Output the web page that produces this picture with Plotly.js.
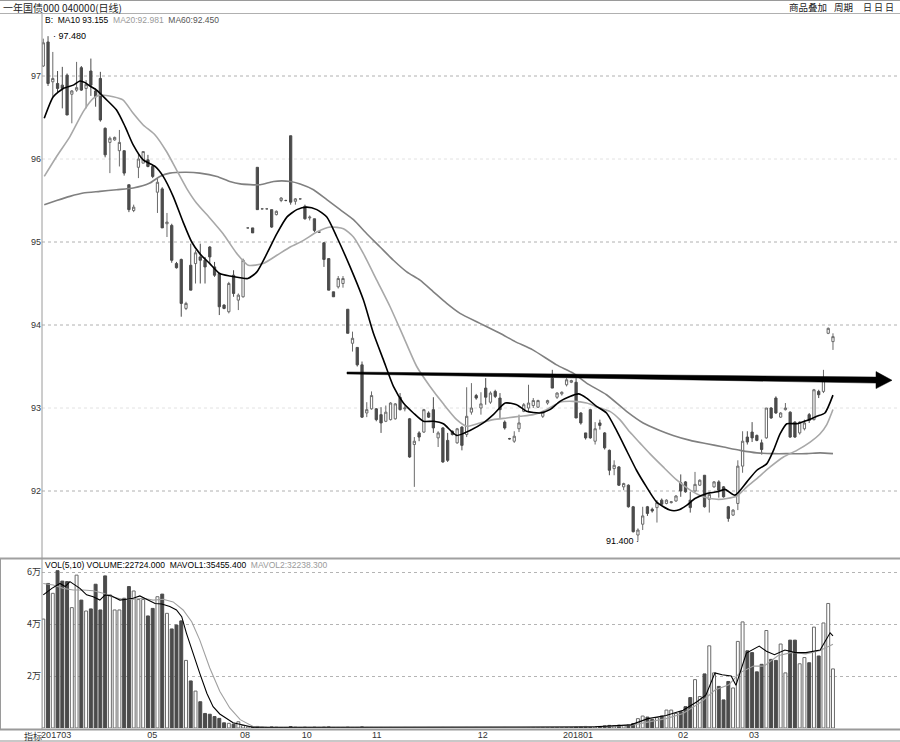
<!DOCTYPE html>
<html><head><meta charset="utf-8">
<script src="https://cdn.plot.ly/plotly-3.0.1.min.js"></script>
<style>html,body{margin:0;padding:0;background:#fff}#c{width:900px;height:742px}</style>
</head><body><div id="c"></div>
<script>
// ---------- data ----------
const open = [97.12,97.41,96.93,96.91,96.89,97.01,96.78,96.83,97.10,96.85,
97.06,96.82,96.97,96.37,96.20,96.23,96.10,96.10,95.69,95.38,
95.90,95.95,95.99,95.91,95.60,95.64,95.22,95.20,94.74,94.79,
94.20,94.72,94.74,94.82,94.78,94.94,94.70,94.62,94.24,94.16,
94.60,94.30,94.34,95.17,95.17,95.90,95.40,95.40,95.39,95.33,
95.50,95.50,96.28,95.49,95.52,95.43,95.29,95.28,95.12,94.99,
94.80,94.40,94.46,94.50,94.19,93.78,93.73,93.52,92.94,92.99,
92.99,92.92,92.84,92.86,92.87,93.13,92.99,92.87,92.56,92.70,
92.71,92.94,92.98,92.64,92.76,92.61,92.72,92.58,92.77,92.68,
92.95,93.15,93.00,93.24,93.07,93.20,93.12,92.83,92.63,92.60,
92.75,92.96,93.00,93.03,93.01,92.90,93.06,93.36,93.13,93.17,
93.28,93.31,93.31,92.94,92.70,92.98,92.60,92.82,92.70,92.49,
92.27,92.29,92.05,92.07,91.81,91.47,91.60,91.81,91.78,91.80,
91.89,91.85,91.86,91.88,92.10,92.11,91.89,92.00,92.07,92.19,
91.90,92.05,92.11,92.05,91.81,91.71,91.85,92.30,92.65,92.71,
92.67,92.58,92.64,93.00,93.12,92.89,92.98,92.95,92.83,92.70,
92.75,92.92,92.86,93.20,93.20,93.90,93.80];
const high = [97.45,97.48,97.29,97.06,97.11,97.03,96.83,97.17,97.12,96.95,
97.21,96.85,97.05,96.38,96.27,96.27,96.35,96.10,95.69,95.45,
96.07,96.09,96.05,95.93,95.77,95.66,95.35,95.22,94.76,94.80,
94.28,94.98,94.90,94.98,94.82,94.95,94.76,94.63,94.25,94.52,
94.66,94.38,94.80,95.18,95.17,95.90,95.41,95.41,95.39,95.38,
95.54,95.51,96.28,95.53,95.53,95.45,95.32,95.28,95.13,95.00,
94.80,94.40,94.59,94.59,94.19,93.92,93.73,93.56,93.07,93.20,
93.00,93.01,93.03,93.07,93.06,93.18,93.03,92.88,92.65,92.72,
92.99,92.96,93.13,92.72,92.77,92.70,92.73,92.76,92.78,93.25,
93.30,93.17,93.19,93.36,93.20,93.22,93.18,92.85,92.64,92.72,
92.92,93.06,93.28,93.12,93.10,92.96,93.10,93.46,93.19,93.20,
93.36,93.34,93.36,92.95,92.70,92.99,92.83,92.86,92.71,92.50,
92.37,92.30,92.10,92.08,91.82,91.55,91.81,91.82,91.80,91.89,
91.91,91.90,91.88,91.95,92.20,92.12,91.99,92.23,92.14,92.19,
91.99,92.12,92.13,92.06,91.82,91.78,92.37,92.72,92.72,92.83,
92.68,92.62,93.00,93.01,93.14,92.95,93.06,92.96,92.84,92.84,
92.86,92.94,93.23,93.22,93.46,93.97,93.90];
const low = [97.11,96.88,96.75,96.80,96.61,96.53,96.43,96.81,96.82,96.61,
96.76,96.63,96.45,96.02,95.83,96.22,95.91,95.80,95.36,95.36,
95.77,95.95,95.90,95.77,95.35,95.17,95.06,94.75,94.68,94.10,
94.18,94.42,94.50,94.50,94.50,94.74,94.58,94.12,94.19,94.14,
94.34,94.18,94.33,95.16,95.11,95.39,95.39,95.39,95.17,95.32,
95.48,95.49,95.45,95.45,95.51,95.27,95.26,95.12,95.11,94.70,
94.42,94.34,94.44,94.45,93.90,93.68,93.50,92.88,92.89,92.98,
92.84,92.70,92.83,92.85,92.86,92.97,92.96,92.40,92.05,92.60,
92.70,92.88,92.70,92.53,92.34,92.35,92.67,92.57,92.49,92.65,
92.92,93.10,92.92,93.04,93.05,93.12,92.88,92.74,92.62,92.58,
92.71,92.95,92.95,93.00,93.00,92.88,93.04,93.24,93.11,93.15,
93.26,93.30,92.88,92.80,92.62,92.63,92.56,92.74,92.50,92.19,
92.19,92.06,92.01,91.80,91.50,91.40,91.53,91.70,91.74,91.62,
91.83,91.84,91.85,91.87,91.93,91.98,91.74,91.99,92.06,91.80,
91.74,92.04,91.92,91.92,91.63,91.70,91.77,92.22,92.56,92.59,
92.60,92.44,92.63,92.87,92.93,92.88,92.97,92.64,92.64,92.68,
92.73,92.82,92.85,93.12,93.18,93.89,93.70];
const close = [97.40,96.91,96.97,96.85,96.85,96.53,96.82,96.86,96.83,96.90,
96.89,96.75,96.47,96.05,96.25,96.26,96.20,95.83,95.39,95.42,
96.00,96.09,95.91,95.79,95.72,95.17,95.24,94.78,94.69,94.26,
94.26,94.42,94.87,94.78,94.70,94.82,94.60,94.22,94.20,94.50,
94.38,94.36,94.78,95.17,95.11,95.39,95.40,95.40,95.18,95.37,
95.53,95.50,95.48,95.52,95.52,95.28,95.30,95.14,95.12,94.79,
94.42,94.34,94.56,94.56,93.90,93.84,93.52,92.89,92.98,93.15,
92.86,92.82,92.95,93.06,93.05,92.98,93.00,92.41,92.60,92.65,
92.98,92.89,92.76,92.70,92.35,92.37,92.68,92.75,92.55,92.90,
93.00,93.12,93.05,93.13,93.18,93.14,92.98,92.76,92.63,92.66,
92.82,93.04,93.06,93.09,93.09,92.95,93.09,93.24,93.18,93.19,
93.34,93.33,92.88,92.82,92.64,92.64,92.75,92.79,92.52,92.25,
92.31,92.07,92.09,91.81,91.51,91.53,91.70,91.73,91.76,91.86,
91.84,91.89,91.87,91.94,92.00,91.99,91.80,92.08,92.13,91.81,
91.96,92.11,92.01,91.93,91.67,91.77,92.30,92.60,92.59,92.64,
92.61,92.50,93.00,92.88,92.94,92.94,93.00,92.65,92.65,92.83,
92.82,92.85,93.22,93.16,93.35,93.96,93.86];
// volume in 万 (10,000)
const volume = [4.19,5.56,5.18,6.05,5.65,5.63,4.63,5.88,4.92,4.50,
4.58,5.53,4.54,5.85,5.12,4.54,4.54,4.99,5.44,5.27,
4.94,4.94,4.31,4.60,5.05,5.15,4.41,3.81,3.96,4.12,
2.60,1.81,1.42,1.01,0.56,0.53,0.44,0.37,0.20,0.18,
0.15,0.24,0.10,0.05,0.04,0.06,0.03,0.02,0.04,0.03,
0.02,0.02,0.05,0.03,0.02,0.03,0.02,0.03,0.02,0.03,
0.04,0.02,0.02,0.02,0.03,0.02,0.02,0.04,0.02,0.02,
0.01,0.02,0.01,0.02,0.01,0.01,0.02,0.01,0.02,0.01,
0.01,0.02,0.01,0.01,0.02,0.01,0.02,0.01,0.01,0.02,
0.01,0.02,0.01,0.01,0.02,0.01,0.01,0.02,0.01,0.01,
0.02,0.01,0.01,0.02,0.01,0.02,0.01,0.01,0.02,0.01,
0.02,0.02,0.04,0.05,0.06,0.05,0.04,0.06,0.08,0.10,
0.09,0.11,0.10,0.12,0.17,0.36,0.46,0.42,0.33,0.40,
0.46,0.69,0.69,0.56,0.63,0.82,1.17,1.86,1.21,2.08,
3.16,2.12,1.60,1.08,1.79,1.54,3.33,4.08,2.97,2.90,
2.16,2.45,3.75,2.64,2.60,3.23,2.12,3.38,3.38,2.47,
2.71,2.51,3.88,2.77,4.04,4.79,2.2724];

// moving averages (candle position, value)
const ma10Pos = [0.2,2.1,4.2,6.3,7.7,8.8,9.8,11.2,13.0,15.4,17.2,18.9,21.0,23.5,25.2,27.3,29.4,31.2,32.9,35.0,37.1,39.2,41.4,43.0,44.9,47.0,49.1,51.2,53.3,55.4,57.5,59.6,61.7,64.5,67.3,69.4,71.5,73.6,75.7,77.8,79.9,82.0,84.1,86.9,89.7,92.5,94.6,97.1,99.5,101.6,104.4,106.5,108.6,110.7,112.5,114.2,116.3,118.4,120.5,122.6,124.7,126.8,128.9,131.7,133.5,135.3,137.0,139.5,141.6,143.3,145.4,147.9,150.0,152.1,153.5,154.9,156.3,158.4,160.5,162.6,164.3,166];
const ma10Val = [96.49,96.75,96.85,96.89,96.94,96.92,96.88,96.83,96.73,96.59,96.39,96.17,95.99,95.91,95.79,95.55,95.24,95.00,94.86,94.74,94.62,94.59,94.57,94.56,94.64,94.86,95.10,95.30,95.39,95.42,95.39,95.30,95.06,94.70,94.30,93.90,93.58,93.26,93.06,92.94,92.84,92.84,92.81,92.67,92.73,92.82,92.92,93.06,93.04,92.96,92.94,92.98,93.08,93.14,93.17,93.12,93.02,92.94,92.73,92.49,92.25,92.05,91.87,91.77,91.77,91.83,91.91,91.97,91.99,92.02,91.95,92.11,92.25,92.33,92.49,92.69,92.81,92.81,92.85,92.90,92.94,93.155];
const ma20Pos = [0.2,2.8,5.6,8.4,10.5,11.9,14.7,16.8,18.9,21.0,23.5,25.9,28.0,30.1,32.2,35.0,37.8,40.7,43.1,46.2,49.1,51.9,54.7,57.5,60.3,63.1,65.2,67.3,70.1,72.9,75.7,78.5,81.3,84.1,86.9,89.0,91.8,94.6,97.4,100.2,103.0,105.8,108.6,111.4,114.2,117.0,119.1,121.2,123.3,125.4,127.5,130.3,133.2,136.0,138.7,141.6,143.7,145.8,147.9,150.0,152.8,155.6,158.4,161.2,163.3,164.7,166];
const ma20Val = [95.79,96.03,96.27,96.57,96.73,96.77,96.75,96.71,96.55,96.41,96.29,96.09,95.87,95.65,95.47,95.29,95.10,94.86,94.72,94.74,94.84,94.94,95.02,95.12,95.18,95.16,95.06,94.86,94.54,94.22,93.86,93.50,93.26,93.05,92.86,92.78,92.82,92.86,92.88,92.90,92.92,92.98,93.07,93.08,93.06,93.00,92.96,92.86,92.71,92.58,92.45,92.29,92.13,92.01,91.93,91.90,91.91,91.94,92.05,92.15,92.29,92.41,92.49,92.59,92.69,92.80,92.981];
const ma60Pos = [0.2,2.8,5.6,8.4,11.9,15.4,18.9,22.4,24.5,26.6,30.1,32.9,36.5,39.2,41.4,45.6,48.4,51.9,54.0,56.8,59.6,62.4,65.2,68.0,70.8,73.6,76.4,79.2,82.0,84.8,87.6,91.8,96.0,99.2,102.9,107.9,111.4,114.2,118.4,122.6,126.1,129.6,132.4,136.0,139.5,143.0,146.5,150.0,153.5,157.0,160.5,163.3,166];
const ma60Val = [95.45,95.50,95.55,95.59,95.61,95.63,95.65,95.71,95.79,95.83,95.84,95.83,95.79,95.73,95.70,95.69,95.73,95.73,95.70,95.63,95.51,95.39,95.27,95.10,94.94,94.78,94.64,94.54,94.40,94.26,94.14,94.02,93.90,93.80,93.70,93.52,93.42,93.30,93.16,92.96,92.82,92.73,92.67,92.61,92.57,92.53,92.49,92.46,92.45,92.45,92.45,92.46,92.45];
const mavol1Pos = [0,1.8,3.5,4.6,5.6,6.7,7.7,9.1,10.5,11.9,13.0,14.4,16.1,17.5,18.9,20.3,21.7,23.5,24.9,26.6,28.0,29.1,30.1,31.2,32.2,32.9,34.4,35.7,37.1,39.9,44.1,50,60,80,100,112,116,118.3,121,123.5,127.1,130.9,134.5,137.4,139.3,141.2,142.7,144.6,145.6,147.8,150.5,152.0,153.7,155.9,158.1,160.3,163.3,165.4,166];
const mavol1Val = [5.12,5.37,5.56,5.44,5.63,5.50,5.37,5.12,5.05,4.92,5.12,5.08,4.92,4.95,4.99,5.08,4.95,4.79,4.77,4.67,4.54,4.28,3.64,3.00,2.49,2.10,1.33,0.82,0.54,0.20,0.03,0.03,0.02,0.02,0.02,0.04,0.05,0.07,0.10,0.12,0.36,0.48,0.68,1.01,1.27,2.12,2.05,2.00,1.64,2.88,3.15,2.95,2.82,3.00,2.90,2.90,3.00,3.66,3.5455];
const mavol2Pos = [0,2.1,4.2,6.3,8.4,10.5,12.6,14.7,16.8,18.9,21.0,23.1,25.2,27.3,29.4,31.2,32.9,35.0,37.1,39.2,41.4,44.1,47.0,60,80,100,115,120,124,127.1,130.9,134.5,138.3,141.2,144.1,146.4,149.3,151.5,154.4,157.4,160.3,163.3,166];
const mavol2Val = [5.56,5.50,5.37,5.31,5.31,5.28,5.18,5.03,4.95,4.95,4.99,4.92,4.95,4.85,4.54,4.09,3.38,2.31,1.41,0.77,0.32,0.06,0.03,0.02,0.02,0.02,0.04,0.07,0.12,0.24,0.36,0.56,1.00,1.46,1.66,2.12,2.38,2.38,2.78,2.91,2.85,2.98,3.2238];

const monthLabels = ['201703','05','08','10','11','12','201801','02','03'];
const monthPos = [2.7,22.9,42.4,55.4,70.1,92.4,112.4,134.5,149.4];
const priceTicks = [92,93,94,95,96,97];
const faintPriceGrid = [93,96];
const volTicks = [2,4,6];
const volTickText = ['2万','4万','6万'];

const ma10Last = '93.155', ma20Last = '92.981', ma60Last = '92.450';
const volLast = '22724.000', mavol1Last = '35455.400', mavol2Last = '32238.300';
// trend arrow (candle position, price) start -> tip
const arrowStart = [63.84, 93.422];
const arrowTip = [178.41, 93.334];

// ---------- layout helpers ----------
const W = 900, H = 742, L = 42, R = 0, T = 14, B = 14;
const pw = W - L - R, ph = H - T - B;
const xRange = [-0.27, 180.09];
const yRange = [91.205, 97.747];
const vRange = [0, 6.4615];
const px = v => (v - L) / pw;           // pixel x -> paper
const py = v => (H - B - v) / ph;       // pixel y -> paper
const mainDom = [py(557), 1];
const volDom = [0, py(560)];

const idx = open.map((_, i) => i);
const isUp = idx.map(i => close[i] >= open[i]);
const DARK = '#4b4b4b', UPLINE = '#6a6a6a';

const traces = [
  {type:'candlestick', x: idx, open, high, low, close, xaxis:'x', yaxis:'y',
   increasing:{line:{color:UPLINE,width:1}, fillcolor:'#ffffff'},
   decreasing:{line:{color:DARK,width:1}, fillcolor:DARK},
   whiskerwidth:0, hoverinfo:'skip'},
  {type:'scatter', mode:'lines', x: ma60Pos, y: ma60Val, xaxis:'x', yaxis:'y',
   line:{color:'#808080', width:1.6, shape:'spline', smoothing:0.6}, hoverinfo:'skip'},
  {type:'scatter', mode:'lines', x: ma20Pos, y: ma20Val, xaxis:'x', yaxis:'y',
   line:{color:'#a8a8a8', width:1.6, shape:'spline', smoothing:0.6}, hoverinfo:'skip'},
  {type:'scatter', mode:'lines', x: ma10Pos, y: ma10Val, xaxis:'x', yaxis:'y',
   line:{color:'#000000', width:1.6, shape:'spline', smoothing:0.6}, hoverinfo:'skip'},
  {type:'bar', x: idx, y: volume, xaxis:'x', yaxis:'y2', width:0.62,
   marker:{color: isUp.map(u => u ? '#ffffff' : DARK),
           line:{color: isUp.map(u => u ? UPLINE : DARK), width:1}}, hoverinfo:'skip'},
  {type:'scatter', mode:'lines', x: mavol2Pos, y: mavol2Val, xaxis:'x', yaxis:'y2',
   line:{color:'#a0a0a0', width:1.1}, hoverinfo:'skip'},
  {type:'scatter', mode:'lines', x: mavol1Pos, y: mavol1Val, xaxis:'x', yaxis:'y2',
   line:{color:'#000000', width:1.1}, hoverinfo:'skip'}
];

// arrow polygon (tapering shaft + head), built from start/tip and pixel scales
const xPerPx = (xRange[1]-xRange[0]) / pw;
const yPerPx = (yRange[1]-yRange[0]) / ((mainDom[1]-mainDom[0]) * ph);
const lineY = x => arrowStart[1] + (arrowTip[1]-arrowStart[1]) * (x-arrowStart[0])/(arrowTip[0]-arrowStart[0]);
const xb = arrowTip[0] - 16 * xPerPx, yb = lineY(xb);
const h0 = 1 * yPerPx, h1 = 3 * yPerPx, hh = 8.5 * yPerPx;
const arrowPath = `M ${arrowStart[0]},${arrowStart[1]+h0} L ${xb},${yb+h1} L ${xb},${yb+hh} L ${arrowTip[0]},${arrowTip[1]} L ${xb},${yb-hh} L ${xb},${yb-h1} L ${arrowStart[0]},${arrowStart[1]-h0} Z`;

const hl = (y, w, c) => ({type:'line', xref:'paper', yref:'paper', x0:px(0), x1:px(W), y0:py(y), y1:py(y), line:{color:c, width:w}});
const gridShapes = priceTicks.map(v => ({type:'line', xref:'paper', yref:'y', x0:0, x1:1, y0:v, y1:v,
  line:{color: faintPriceGrid.includes(v) ? '#e2e2e2' : '#b0b0b0', width:1, dash:'3px,3px'}, layer:'below'}));
const shapes = gridShapes.concat([
  hl(0.5, 1, '#9a9a9a'),
  hl(13.5, 1, '#b0b0b0'),
  hl(558.5, 2, '#a0a0a0'),
  hl(729.5, 2, '#9a9a9a'),
  hl(741, 2, '#c8c8c8'),
  {type:'line', xref:'paper', yref:'paper', x0:px(42), x1:px(42), y0:py(14), y1:py(729), line:{color:'#9a9a9a', width:1}},
  {type:'line', xref:'paper', yref:'paper', x0:px(0.5), x1:px(0.5), y0:py(559), y1:py(730), line:{color:'#9a9a9a', width:1}},
  {type:'path', xref:'x', yref:'y', path: arrowPath, fillcolor:'#000000', line:{color:'#000000', width:0.5}}
]);

const F = 'Liberation Sans, Arial, sans-serif';
const CJK = 'Noto Sans CJK SC, sans-serif';
const txt = (x, y, text, color, size, font, anchor) => ({xref:'paper', yref:'paper', x:px(x), y:py(y), text, showarrow:false,
  xanchor: anchor || 'left', yanchor:'middle', font:{family: font || F, size: size || 9, color: color || '#000'}});

// extremes labels, positioned from data
let hiI = 0, loI = 0;
idx.forEach(i => { if (high[i] > high[hiI]) hiI = i; if (low[i] < low[loI]) loI = i; });

const annotations = [
  txt(1, 7, '一年国债000 040000(日线)', '#222', 10, CJK),
  txt(787, 7, '商品叠加', '#222', 9.5, CJK),
  txt(832, 7, '周期', '#222', 9.5, CJK),
  txt(861, 7, '日 日 日', '#222', 9, CJK),
  txt(43, 20, 'B:  MA10 ' + ma10Last + '  <span style="color:#9a9a9a">MA20:' + ma20Last + '</span>  <span style="color:#555">MA60:' + ma60Last + '</span>', '#000', 8.5),
  txt(43, 565, 'VOL(5,10) VOLUME:' + volLast + '  MAVOL1:' + mavol1Last + '  <span style="color:#9a9a9a">MAVOL2:' + mavol2Last + '</span>', '#000', 8.5),
  txt(22, 736, '指标', '#333', 9, CJK),
  {xref:'x', yref:'y', x: hiI, y: high[hiI], text:'· ' + high[hiI].toFixed(3), showarrow:false,
   xanchor:'left', yanchor:'middle', xshift:3, font:{family:F, size:9, color:'#000'}},
  {xref:'x', yref:'y', x: loI, y: low[loI], text: low[loI].toFixed(3) + ' ·', showarrow:false,
   xanchor:'right', yanchor:'middle', xshift:3, font:{family:F, size:9, color:'#000'}}
];

const layout = {
  width:W, height:H, margin:{l:L, r:R, t:T, b:B}, paper_bgcolor:'#ffffff', plot_bgcolor:'#ffffff',
  showlegend:false, boxgap:0.32, bargap:0.3, hovermode:false,
  xaxis:{range:xRange, anchor:'y2', tickvals:monthPos, ticktext:monthLabels, ticks:'', showgrid:false,
         zeroline:false, showline:false, rangeslider:{visible:false}, fixedrange:true,
         tickfont:{family:F, size:9, color:'#333'}},
  yaxis:{domain:mainDom, range:yRange, tickvals:priceTicks, ticks:'', showgrid:false,
         zeroline:false, showline:false, tickfont:{family:F, size:9, color:'#333'}},
  yaxis2:{domain:volDom, range:vRange, tickvals:volTicks, ticktext:volTickText, ticks:'', showgrid:true,
          gridcolor:'#b4b4b4', griddash:'3px,3px', zeroline:false, showline:false,
          tickfont:{family:CJK, size:9, color:'#333'}},
  shapes, annotations
};

Plotly.newPlot('c', traces, layout, {displayModeBar:false, staticPlot:true});
</script>
</body></html>
